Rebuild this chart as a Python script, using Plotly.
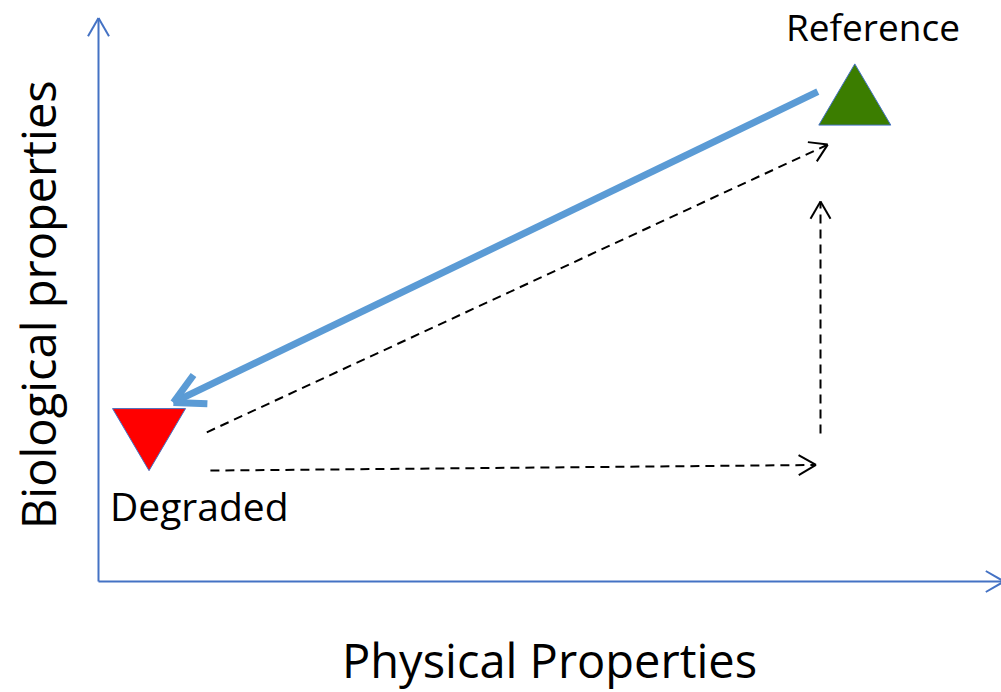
import plotly.graph_objects as go
import math

# ---- conceptual data (arbitrary units: 0..10 on each property axis) ----
states = ["Reference", "Degraded"]
physical = [8.38, 0.56]        # x: physical properties
biological = [8.65, 2.52]      # y: biological properties

# pathways (start -> end), in property units
decline_x = [7.97, 0.83]; decline_y = [8.70, 3.18]           # blue solid: degradation
restore_diag_x = [1.20, 8.08]; restore_diag_y = [2.65, 7.76]  # dashed: both restored
restore_phys_x = [1.24, 7.95]; restore_phys_y = [1.97, 2.07]  # dashed: physical restored
restore_bio_x = [8.0, 8.0]; restore_bio_y = [2.63, 6.75]      # dashed: biological restored

x_title = "Physical Properties"
y_title = "Biological properties"

# ---- pixel mapping helpers (body margin removed, page px == figure px) ----
W, H = 1001, 692
OFF = 0
X0, XS = 98.5, 90.25      # page pixel of x=0, px per unit
Y0, YS = 581.5, 56.3      # page pixel of y=0, px per unit

def to_px(x, y):
    return X0 + XS * x, Y0 - YS * y

def to_data(px, py):
    return (px - X0) / XS, (Y0 - py) / YS

xr = [to_data(OFF, 0)[0], to_data(OFF + W, 0)[0]]
yr = [to_data(0, OFF + H)[1], to_data(0, OFF)[1]]

fig = go.Figure()

def chevron(xe, ye, xs, ys, length, half_angle):
    """arms of an open arrowhead at (xe,ye), arrow coming from (xs,ys)"""
    ex, ey = to_px(xe, ye)
    sx, sy = to_px(xs, ys)
    ang = math.atan2(sy - ey, sx - ex)
    xs_out, ys_out = [], []
    for s in (1, -1):
        a = ang + s * math.radians(half_angle)
        px, py = ex + length * math.cos(a), ey + length * math.sin(a)
        dx, dy = to_data(px, py)
        xs_out += [dx, xe, None]
        ys_out += [dy, ye, None]
    return xs_out, ys_out

def arrow(xs, ys, color, width, dash, head_len, head_ang):
    fig.add_trace(go.Scatter(x=xs, y=ys, mode="lines",
                             line=dict(color=color, width=width, dash=dash),
                             hoverinfo="skip", showlegend=False))
    hx, hy = chevron(xs[1], ys[1], xs[0], ys[0], head_len, head_ang)
    fig.add_trace(go.Scatter(x=hx, y=hy, mode="lines",
                             line=dict(color=color, width=width),
                             hoverinfo="skip", showlegend=False))

axis_color = "#4472C4"
# axes with arrowheads
arrow([0, 0], [0, to_data(0, 18)[1]], axis_color, 2, "solid", 21, 30)
arrow([0, to_data(1004, 0)[0]], [0, 0], axis_color, 2, "solid", 21, 30)

# pathways
arrow(decline_x, decline_y, "#5B9BD5", 7, "solid", 34, 28)
arrow(restore_diag_x, restore_diag_y, "black", 2, "9px,6px", 20, 32)
arrow(restore_phys_x, restore_phys_y, "black", 2, "9px,6px", 20, 30)
arrow(restore_bio_x, restore_bio_y, "black", 2, "9px,6px", 20, 30)

# triangles (equilateral-ish, drawn around the state points)
def triangle(x, y, up, size_px, fill):
    cx, cy = to_px(x, y)
    h = size_px * 0.85
    if up:
        pts = [(cx, cy - h * 0.5), (cx + size_px / 2, cy + h * 0.5), (cx - size_px / 2, cy + h * 0.5)]
    else:
        pts = [(cx, cy + h * 0.5), (cx + size_px / 2, cy - h * 0.5), (cx - size_px / 2, cy - h * 0.5)]
    pts.append(pts[0])
    dx = [to_data(p[0], p[1])[0] for p in pts]
    dy = [to_data(p[0], p[1])[1] for p in pts]
    fig.add_trace(go.Scatter(x=dx, y=dy, mode="lines", fill="toself",
                             fillcolor=fill, line=dict(color=axis_color, width=1),
                             hoverinfo="skip", showlegend=False))

triangle(physical[0], biological[0], True, 72, "#3B7D00")
triangle(physical[1], biological[1], False, 73, "#FF0000")

font = "'Open Sans', Lato, sans-serif"
# state labels
label_offsets = [(18, -68), (50, 66)]  # px offsets from the state point
label_sizes = [37, 39]
for name, x, y, (ox, oy), fs in zip(states, physical, biological, label_offsets, label_sizes):
    cx, cy = to_px(x, y)
    lx, ly = to_data(cx + ox, cy + oy)
    fig.add_annotation(x=lx, y=ly, text=name, showarrow=False,
                       font=dict(family=font, size=fs, color="black"),
                       xanchor="center", yanchor="middle")

# axis titles
tx, ty = to_data(549, 660)
fig.add_annotation(x=tx, y=ty, text=x_title, showarrow=False,
                   font=dict(family=font, size=47, color="black"),
                   xanchor="center", yanchor="middle")
tx, ty = to_data(38, 305)
fig.add_annotation(x=tx, y=ty, text=y_title, showarrow=False, textangle=-90,
                   font=dict(family=font, size=47, color="black"),
                   xanchor="center", yanchor="middle")

fig.update_layout(
    width=W, height=H,
    margin=dict(l=0, r=0, t=0, b=0),
    paper_bgcolor="white", plot_bgcolor="white",
    xaxis=dict(range=xr, visible=False, fixedrange=True),
    yaxis=dict(range=yr, visible=False, fixedrange=True),
    showlegend=False,
)

fig.write_html("out.html", config={"displayModeBar": False, "staticPlot": True},
               post_script="document.body.style.margin='0px';document.body.style.overflow='hidden';")
